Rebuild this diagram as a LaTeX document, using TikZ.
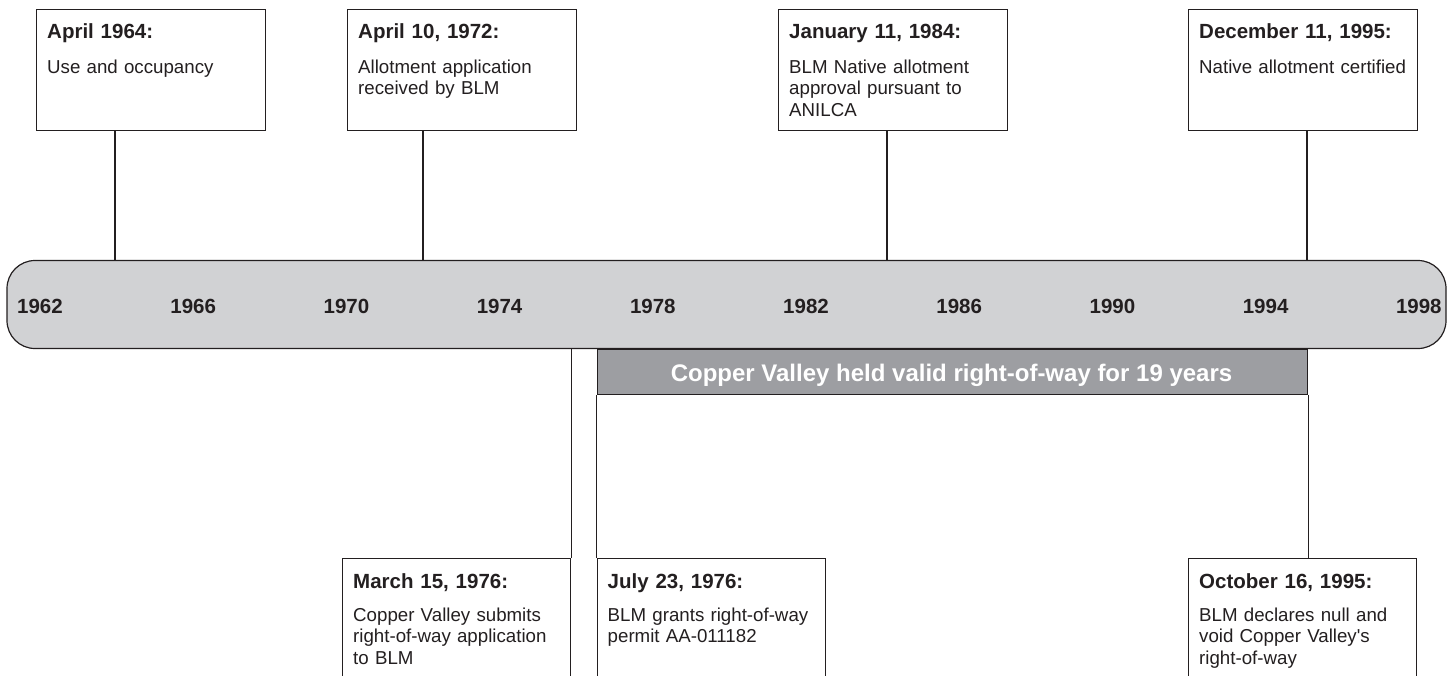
\documentclass[tikz,border=0pt]{standalone}
\usepackage{fontspec}
\setmainfont{Liberation Sans}
\definecolor{ink}{HTML}{231F20}
\definecolor{barfill}{HTML}{D1D2D4}
\definecolor{bandfill}{HTML}{9D9EA2}
\begin{document}
\begin{tikzpicture}[x=1pt,y=-1pt,
  ln/.style={draw=ink,line width=1.2pt},
  evbox/.style={ln, fill=white, anchor=north west, inner sep=0pt, minimum width=229pt, minimum height=121pt},
  openbox/.style={ln, fill=white, anchor=north west, inner sep=0pt, minimum width=228pt, minimum height=200pt},
  hdr/.style={anchor=base west, inner sep=0pt, text width=216pt, align=left, text=ink, font=\fontsize{20.5}{24}\selectfont\bfseries},
  bdy/.style={anchor=base west, inner sep=0pt, text width=216pt, align=left, text=ink, font=\fontsize{18.7}{21.5}\selectfont},
  yr/.style={anchor=base, inner sep=0pt, text=ink, font=\fontsize{20.5}{24}\selectfont\bfseries}]
\useasboundingbox (0,0) rectangle (1450,675);
\clip (0,0) rectangle (1450,675);

% event boxes above the timeline
\node[evbox] (b1) at (36,9) {};
\node[evbox] (b2) at (347,9) {};
\node[evbox] (b3) at (778,9) {};
\node[evbox] (b4) at (1188,9) {};
% event boxes below the timeline (run past the lower edge)
\node[openbox] (b5) at (342,558) {};
\node[openbox] (b6) at (596.5,558) {};
\node[openbox] (b7) at (1188,558) {};

% texts
\node[hdr] (h1) at ([shift={(11,29.5)}]b1.north west) {April 1964:};
\node[bdy] (t1) at ([shift={(11,64)}]b1.north west) {Use and occupancy};
\node[hdr] (h2) at ([shift={(11,29.5)}]b2.north west) {April 10, 1972:};
\node[bdy] (t2) at ([shift={(11,64)}]b2.north west) {Allotment application\\received by BLM};
\node[hdr] (h3) at ([shift={(11,29.5)}]b3.north west) {January 11, 1984:};
\node[bdy] (t3) at ([shift={(11,64)}]b3.north west) {BLM Native allotment\\approval pursuant to\\ANILCA};
\node[hdr] (h4) at ([shift={(11,29.5)}]b4.north west) {December 11, 1995:};
\node[bdy] (t4) at ([shift={(11,64)}]b4.north west) {Native allotment certified};
\node[hdr] (h5) at ([shift={(11,30)}]b5.north west) {March 15, 1976:};
\node[bdy] (t5) at ([shift={(11,63)}]b5.north west) {Copper Valley submits\\right-of-way application\\to BLM};
\node[hdr] (h6) at ([shift={(11,30)}]b6.north west) {July 23, 1976:};
\node[bdy] (t6) at ([shift={(11,63)}]b6.north west) {BLM grants right-of-way\\permit AA-011182};
\node[hdr] (h7) at ([shift={(11,30)}]b7.north west) {October 16, 1995:};
\node[bdy] (t7) at ([shift={(11,63)}]b7.north west) {BLM declares null and\\void Copper Valley\textquotesingle s\\right-of-way};

% anchor points on the timeline
\coordinate (e1) at (115,300);
\coordinate (e2) at (423,300);
\coordinate (e3) at (887,300);
\coordinate (e4) at (1307,300);

% timeline bar
\node[ln, fill=barfill, rounded corners=28pt, minimum width=1439pt, minimum height=88pt, inner sep=0pt] (bar) at (726.5,304.5) {};

% connectors from the upper boxes
\draw[ln] (b1.south -| e1) -- (bar.north -| e1);
\draw[ln] (b2.south -| e2) -- (bar.north -| e2);
\draw[ln] (b3.south -| e3) -- (bar.north -| e3);
\draw[ln] (b4.south -| e4) -- (bar.north -| e4);

% band: period of valid right-of-way
\node[ln, fill=bandfill, anchor=north west, minimum width=710.5pt, minimum height=45.5pt, inner sep=0pt] (band) at (596.5,348.5) {};
\node[anchor=base, inner sep=0pt, text=white, font=\fontsize{24}{28}\selectfont\bfseries] (bandtxt) at (951.5,381.5) {Copper Valley held valid right-of-way for 19 years};

% connectors to the lower boxes
\draw[ln] (bar.south -| b5.north east) -- (b5.north east);
\draw[ln] (band.south west) -- (b6.north west);
\draw[ln] (band.south east) -- (b7.north -| band.south east);

% year labels
\foreach \i in {0,...,9}{
  \pgfmathtruncatemacro{\yv}{1962+4*\i}
  \node[yr] (y\yv) at (40+153.2*\i,313) {\yv};
}
\end{tikzpicture}
\end{document}
